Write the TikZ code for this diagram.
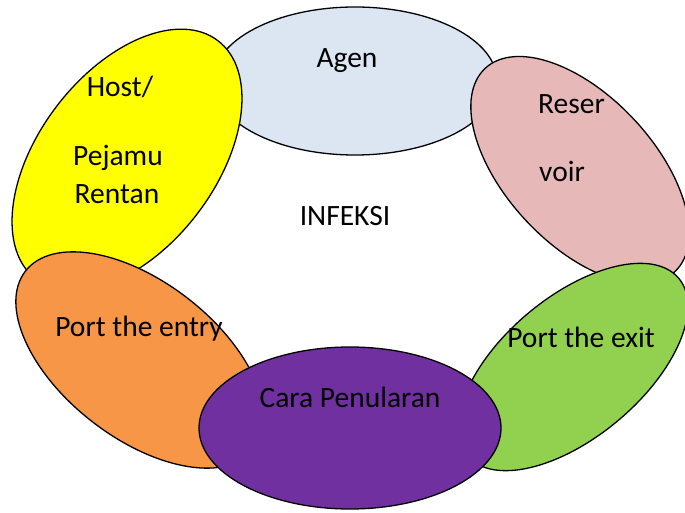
\documentclass[tikz,border=0pt]{standalone}
\usepackage{fontspec}
\setmainfont{Carlito}
\usepackage{xcolor}
\usepackage{tikz}
\definecolor{agenblue}{RGB}{220,230,242}
\definecolor{reserpink}{RGB}{230,185,184}
\definecolor{exitgreen}{RGB}{146,208,80}
\definecolor{hostyellow}{RGB}{255,255,0}
\definecolor{entryorange}{RGB}{247,150,70}
\definecolor{carapurple}{RGB}{112,48,160}
\tikzset{
  ring/.style={draw=black, line width=1.3pt},
  lbl/.style={inner sep=0pt, text height=19pt, text depth=6pt, font=\fontsize{29.5}{35}\selectfont}
}

\begin{document}
\begin{tikzpicture}[x=1pt,y=1pt]
  \useasboundingbox (0,0) rectangle (685,512);

  \path[ring, fill=agenblue] (355,431) ellipse [x radius=142, y radius=74];
  \path[ring, fill=reserpink, rotate around={-47:(580,342)}] (580,342) ellipse [x radius=139, y radius=74];
  \path[ring, fill=exitgreen, rotate around={40:(573,145)}] (573,145) ellipse [x radius=138, y radius=70];
  \path[ring, fill=hostyellow, rotate around={52.7:(127,352)}] (127,352) ellipse [x radius=150, y radius=88.5];
  \path[ring, fill=entryorange, rotate around={-37.8:(140,152)}] (140,152) ellipse [x radius=145, y radius=78];
  \path[ring, fill=carapurple] (350,84) ellipse [x radius=151, y radius=81];

  \node[lbl] (agen) at (347,451) {Agen};
  \node[lbl] (host) at (120,422) {Host/};
  \node[lbl] (pejamu) at (118,353) {Pejamu};
  \node[lbl] (rentan) at (117,315) {Rentan};
  \node[lbl, anchor=west] (reser) at (538,405) {Reser};
  \node[lbl, anchor=west] (voir) at (539,337) {voir};
  \node[lbl] (infeksi) at (345,293) {INFEKSI};
  \node[lbl] (entry) at (139,182) {Port the entry};
  \node[lbl] (exit) at (581,171) {Port the exit};
  \node[lbl] (cara) at (350,111) {Cara Penularan};
\end{tikzpicture}
\end{document}
